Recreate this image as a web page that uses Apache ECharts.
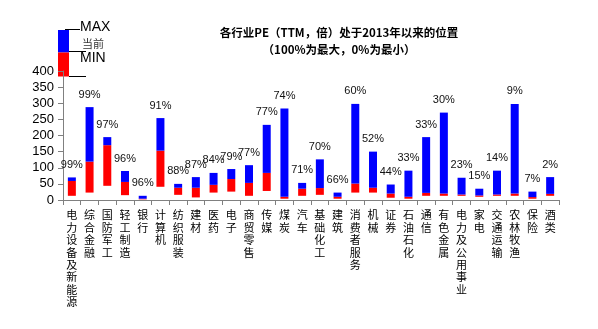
<!DOCTYPE html>
<html>
<head>
<meta charset="utf-8">
<script src="https://cdn.jsdelivr.net/npm/echarts@6/dist/echarts.min.js"></script>
<style>html,body{margin:0;padding:0;background:#fff;}#c{width:598px;height:329px;}</style>
</head>
<body>
<div id="c"></div>
<script>
var categories = ['电力设备及新能源','综合金融','国防军工','轻工制造','银行','计算机','纺织服装','建材','医药','电子','商贸零售','传媒','煤炭','汽车','基础化工','建筑','消费者服务','机械','证券','石油石化','通信','有色金属','电力及公用事业','家电','交通运输','农林牧渔','保险','酒类'];
var minVals = [13, 23, 44, 15, 2, 41, 16, 8, 23, 26, 13, 28, 4, 13, 16, 4, 23, 23, 7, 4, 13, 13, 13, 10, 13, 13, 4, 13];
var curVals = [59, 119, 170, 56, 4, 153, 38, 38, 47, 65, 53, 84, 10, 35, 37, 10, 51, 38, 20, 10, 22, 20, 17, 14, 17, 20, 9, 19];
var maxVals = [70, 288, 195, 90, 13, 254, 50, 71, 84, 96, 108, 233, 284, 53, 126, 23, 298, 150, 48, 91, 195, 271, 69, 35, 91, 298, 26, 71];
var pctLabels = ['99%','99%','97%','96%','96%','91%','88%','87%','84%','79%','77%','77%','74%','71%','70%','66%','60%','52%','44%','33%','33%','30%','23%','15%','14%','9%','7%','2%'];
var yTicks = {min: 0, max: 400, interval: 50};

var redVals = curVals.map(function (v, i) { return v - minVals[i]; });
var blueVals = maxVals.map(function (v, i) { return v - curVals[i]; });

var chart = echarts.init(document.getElementById('c'));
chart.setOption({
  animation: false,
  backgroundColor: '#fff',
  title: {
    text: '各行业PE（TTM，倍）处于2013年以来的位置\n（100%为最大，0%为最小）',
    left: 334, top: 19, textAlign: 'center',
    textStyle: {fontSize: 11.5, fontWeight: 'bold', color: '#000', lineHeight: 17, fontFamily: 'Noto Sans CJK SC'}
  },
  grid: {left: 63, right: 39, top: 71, bottom: 129},
  xAxis: {
    type: 'category',
    data: categories,
    axisLine: {lineStyle: {color: '#808080'}},
    axisTick: {show: true, length: 5, lineStyle: {color: '#808080'}},
    axisLabel: {
      interval: 0, margin: 9, color: '#000',
      fontSize: 11, lineHeight: 12.4, fontFamily: 'Noto Sans CJK SC', verticalAlign: 'top',
      formatter: function (v) { return v.split('').join('\n'); }
    }
  },
  yAxis: {
    type: 'value', min: yTicks.min, max: yTicks.max, interval: yTicks.interval,
    axisLine: {show: true, lineStyle: {color: '#808080'}},
    axisTick: {show: true, length: 5, lineStyle: {color: '#808080'}},
    splitLine: {show: false},
    axisLabel: {color: '#000', fontSize: 13, margin: 9, fontFamily: 'Liberation Sans'}
  },
  series: [
    {type: 'bar', stack: 'a', barWidth: 8, data: minVals, itemStyle: {color: 'rgba(0,0,0,0)'}, silent: true},
    {type: 'bar', stack: 'a', barWidth: 8, data: redVals, itemStyle: {color: '#FF0000'}},
    {type: 'bar', stack: 'a', barWidth: 8, data: blueVals, itemStyle: {color: '#0000FF'},
      label: {show: true, position: 'top', distance: 7, color: '#111', fontSize: 11, fontFamily: 'Liberation Sans',
        formatter: function (p) { return pctLabels[p.dataIndex]; }}}
  ],
  graphic: [
    {type: 'rect', shape: {x: 58, y: 30, width: 11, height: 22.5}, style: {fill: '#0000FF'}},
    {type: 'rect', shape: {x: 58, y: 52.5, width: 11, height: 24}, style: {fill: '#FF0000'}},
    {type: 'line', shape: {x1: 65, y1: 29.5, x2: 80, y2: 29.5}, style: {stroke: '#000', lineWidth: 1}},
    {type: 'line', shape: {x1: 69, y1: 51.5, x2: 86, y2: 51.5}, style: {stroke: '#000', lineWidth: 1}},
    {type: 'line', shape: {x1: 69, y1: 76.5, x2: 86, y2: 76.5}, style: {stroke: '#000', lineWidth: 1}},
    {type: 'text', x: 80, y: 27, style: {text: 'MAX', fill: '#000', font: '14px "Liberation Sans"', textVerticalAlign: 'middle'}},
    {type: 'text', x: 82, y: 43.5, style: {text: '当前', fill: '#333', font: '11px "Noto Sans CJK SC"', textVerticalAlign: 'middle'}},
    {type: 'text', x: 80, y: 58.5, style: {text: 'MIN', fill: '#000', font: '14px "Liberation Sans"', textVerticalAlign: 'middle'}}
  ]
});
</script>
</body>
</html>
